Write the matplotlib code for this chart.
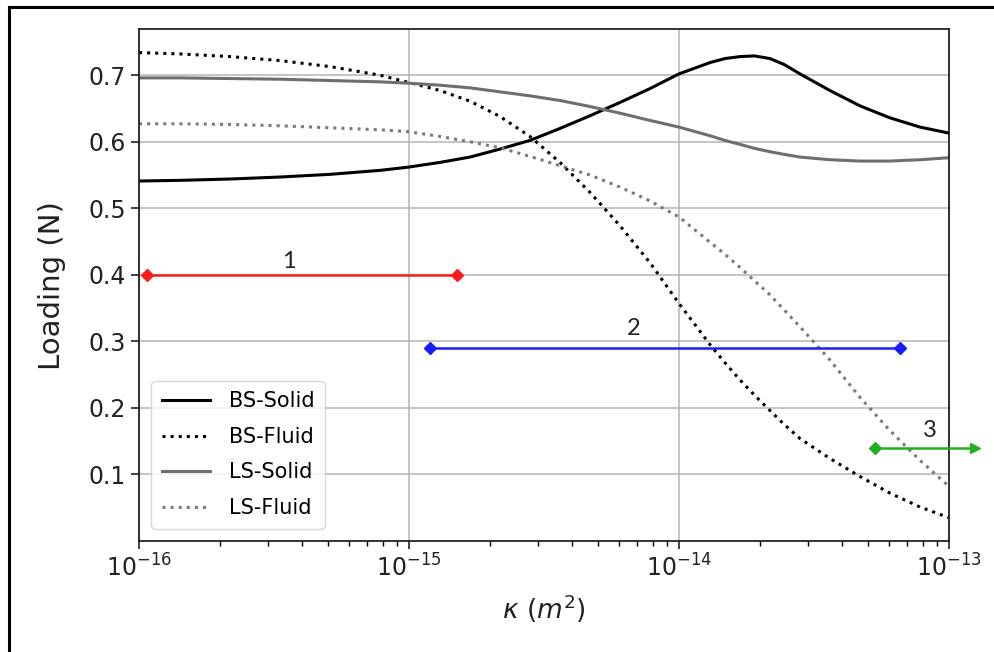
import numpy as np
import matplotlib
matplotlib.use("Agg")
import matplotlib.pyplot as plt
from matplotlib.lines import Line2D

# log10 of permeability kappa (m^2) at sampled points
log_kappa = [-16.000, -15.848, -15.663, -15.478, -15.293, -15.107, -15.000, -14.885,
             -14.774, -14.663, -14.552, -14.441, -14.330, -14.219, -14.107, -14.000,
             -13.885, -13.830, -13.774, -13.720, -13.663, -13.610, -13.552, -13.441,
             -13.330, -13.219, -13.107, -13.000]

bs_solid = [0.541, 0.542, 0.544, 0.547, 0.551, 0.557, 0.562, 0.569, 0.577, 0.589, 0.602,
            0.620, 0.639, 0.659, 0.680, 0.702, 0.719, 0.725, 0.728, 0.729, 0.725, 0.716,
            0.702, 0.677, 0.654, 0.636, 0.622, 0.613]
bs_fluid = [0.734, 0.732, 0.728, 0.722, 0.713, 0.700, 0.689, 0.677, 0.661, 0.638, 0.608,
            0.569, 0.524, 0.474, 0.418, 0.357, 0.295, 0.268, 0.242, 0.219, 0.196, 0.175,
            0.154, 0.124, 0.097, 0.072, 0.051, 0.035]
ls_solid = [0.696, 0.696, 0.695, 0.694, 0.692, 0.690, 0.688, 0.685, 0.681, 0.675, 0.669,
            0.662, 0.653, 0.643, 0.632, 0.622, 0.609, 0.602, 0.596, 0.590, 0.585, 0.581,
            0.577, 0.573, 0.571, 0.571, 0.573, 0.576]
ls_fluid = [0.627, 0.627, 0.626, 0.624, 0.621, 0.618, 0.615, 0.608, 0.600, 0.591, 0.578,
            0.564, 0.550, 0.532, 0.511, 0.487, 0.449, 0.431, 0.411, 0.391, 0.370, 0.347,
            0.322, 0.272, 0.216, 0.166, 0.121, 0.082]

# ranges (start, end, level, label)
range_labels = ["1", "2", "3"]
range_start = [1.07e-16, 1.2e-15, 5.3e-14]
range_end = [1.5e-15, 6.6e-14, 1.25e-13]
range_level = [0.40, 0.29, 0.14]
range_label_x = [3.6e-16, 6.8e-15, 8.5e-14]
range_label_y = [0.420, 0.320, 0.166]
range_colors = ["#ff1a1a", "#1a1aff", "#22b022"]

kappa = 10.0 ** np.array(log_kappa)

fig = plt.figure(figsize=(9.95, 6.52), dpi=100)
ax = fig.add_axes([139 / 995, 111 / 652, 810 / 995, (541 - 29.3) / 652])

ax.semilogx(kappa, bs_solid, color="black", lw=2.2, ls="-", label="BS-Solid")
ax.semilogx(kappa, bs_fluid, color="black", lw=2.2, ls=":", label="BS-Fluid")
ax.semilogx(kappa, ls_solid, color="#6e6e6e", lw=2.2, ls="-", label="LS-Solid")
ax.semilogx(kappa, ls_fluid, color="#7a7a7a", lw=2.2, ls=":", label="LS-Fluid")

for i in range(3):
    c = range_colors[i]
    ax.plot([range_start[i], range_end[i]], [range_level[i]] * 2, color=c, lw=1.8,
            clip_on=False, zorder=3)
    ax.plot([range_start[i]], [range_level[i]], marker="D", ms=6.5, color=c,
            clip_on=False, zorder=4)
    ax.plot([range_end[i]], [range_level[i]], marker=(">" if i == 2 else "D"),
            ms=6.5, color=c, clip_on=False, zorder=4)
    ax.text(range_label_x[i], range_label_y[i], range_labels[i], fontsize=17,
            family="Lato", ha="center", va="center", color="#222222")

ax.set_xlim(1e-16, 1e-13)
ax.set_ylim(0.0, 0.769)
ax.set_yticks([0.1, 0.2, 0.3, 0.4, 0.5, 0.6, 0.7])
ax.grid(True, which="major", color="#b4b4b4", lw=1.1)
ax.tick_params(axis="both", which="major", labelsize=17, length=6, width=1.2,
               colors="#222222")
ax.tick_params(axis="x", which="minor", length=3.5, width=1.0)
for s in ax.spines.values():
    s.set_linewidth(1.3)
    s.set_color("#222222")

ax.set_ylabel("Loading (N)", fontsize=21, color="#222222", labelpad=16)
ax.set_xlabel(r"$\kappa\ (m^2)$", fontsize=19, color="#222222", labelpad=8)

leg = ax.legend(loc="lower left", fontsize=15, handlelength=2.3,
                borderaxespad=0.6, labelspacing=0.75, handletextpad=0.9,
                borderpad=0.5)
leg.get_frame().set_edgecolor("#cccccc")

# figure border (left and top edges)
fig.add_artist(Line2D([8.7 / 995, 8.7 / 995], [0, 1 - 7 / 652], color="black", lw=2.2,
                      transform=fig.transFigure))
fig.add_artist(Line2D([8.7 / 995, 1], [1 - 7 / 652, 1 - 7 / 652], color="black", lw=2.2,
                      transform=fig.transFigure))

fig.savefig("out.png", dpi=100)
